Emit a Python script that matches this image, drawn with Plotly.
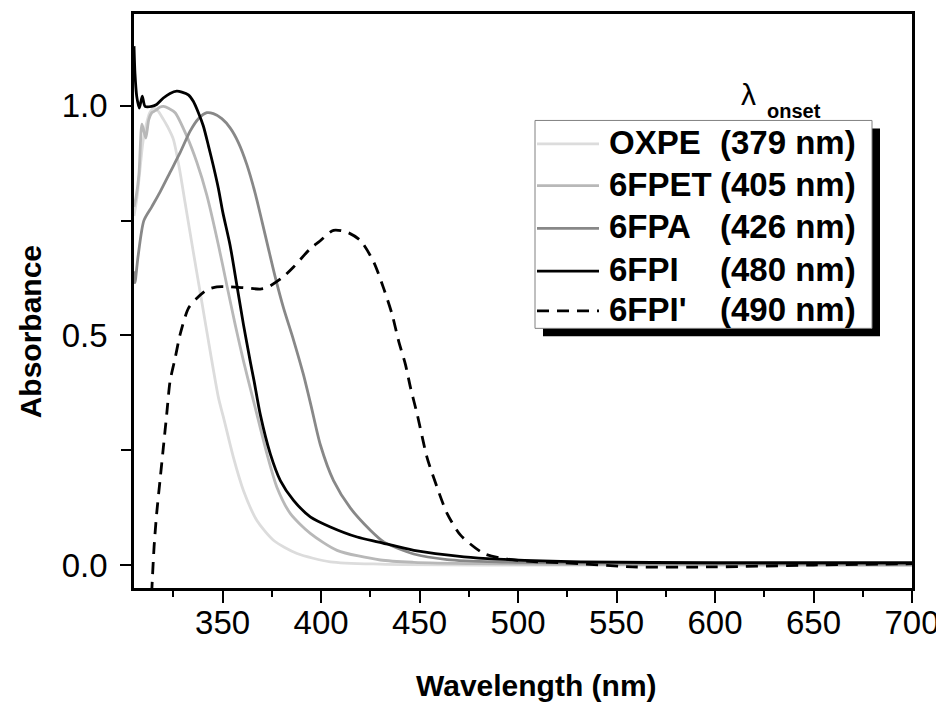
import plotly.graph_objects as go

# ---------------- data ----------------
oxpe_wl = [305, 306.5, 308, 309.5, 311, 313, 315, 317, 320, 322, 325, 328.4, 330.9, 335.1, 339.4,
           343.7, 347.9, 350.4, 355.5, 360.6, 367.4, 375.8, 387.8, 404.7, 430, 480, 550, 620, 700]
oxpe_abs = [0.76, 0.80, 0.86, 0.92, 0.955, 0.985, 0.995, 0.99, 0.97, 0.955, 0.927, 0.855, 0.790, 0.682, 0.574,
            0.465, 0.364, 0.322, 0.234, 0.162, 0.097, 0.054, 0.025, 0.007, 0.002, 0.0, 0.0, 0.0, 0.0]

fpet_wl = [305, 306, 307.5, 309, 310, 311, 312.5, 314, 316, 318, 320, 322.5, 325.9, 331.8, 336.9, 342.0,
           347.9, 352.1, 356.4, 360.6, 365.7, 367.4, 372.5, 377.6, 384.4, 394.5, 408.1, 430.1, 447, 480, 550, 700]
fpet_abs = [0.78, 0.80, 0.85, 0.96, 0.945, 0.93, 0.97, 0.985, 0.99, 0.997, 0.999, 0.995, 0.985, 0.934, 0.877, 0.805,
            0.696, 0.610, 0.523, 0.444, 0.357, 0.328, 0.242, 0.169, 0.112, 0.069, 0.032, 0.011, 0.006, 0.003, 0.001, 0.0]

fpa_wl = [305, 305.5, 307, 310, 314, 318.2, 323.3, 328.4, 333.5, 337.7, 342, 345.3, 349.6, 353.8, 358,
          362.3, 366.5, 370, 373.3, 377, 380.9, 386, 391, 395, 399.6, 406.3, 414.9, 425, 432, 447, 464, 489, 550, 700]
fpa_abs = [0.64, 0.615, 0.67, 0.75, 0.78, 0.812, 0.855, 0.898, 0.945, 0.972, 0.985, 0.983, 0.972, 0.952, 0.92,
           0.872, 0.81, 0.748, 0.688, 0.622, 0.56, 0.49, 0.415, 0.345, 0.262, 0.184, 0.124, 0.076, 0.05, 0.024, 0.012,
           0.007, 0.004, 0.002]

fpi_wl = [305, 305.5, 306.4, 307.7, 309.2, 310.6, 314.0, 316.5, 319.9, 323.3, 326.7, 329.3, 332.6, 335.1, 337.7,
          340.2, 342.8, 345.3, 347.9, 350.1, 353.8, 357.2, 360.6, 364.0, 366.0, 369.1, 374.2, 379.3, 386.0, 394.5,
          404.7, 418.3, 429.3, 447.1, 472.5, 489.5, 531.9, 600, 700]
fpi_abs = [1.13, 1.07, 1.02, 0.995, 1.021, 0.999, 0.999, 1.003, 1.017, 1.027, 1.032, 1.030, 1.024, 1.010, 0.985,
           0.956, 0.913, 0.869, 0.819, 0.768, 0.696, 0.610, 0.523, 0.444, 0.40, 0.328, 0.242, 0.184, 0.141, 0.105,
           0.083, 0.061, 0.050, 0.032, 0.018, 0.013, 0.007, 0.005, 0.005]

fpip_wl = [313, 314.3, 315.2, 316.5, 318.2, 319.9, 321.6, 323.3, 325.9, 328.4, 332.6, 336.9, 342.0, 347.1, 353.8,
           360.5, 369.1, 372.5, 380.9, 386.0, 394.5, 398.7, 406.3, 413.1, 419.9, 426.7, 431.8, 436.1, 439.4, 442.8,
           445.4, 448.8, 453.8, 458.9, 464.0, 470.8, 482.7, 494.5, 509.8, 523.3, 558, 600, 650, 700]
fpip_abs = [-0.15, -0.032, 0.040, 0.112, 0.184, 0.256, 0.328, 0.400, 0.451, 0.502, 0.559, 0.581, 0.599, 0.606, 0.606,
            0.604, 0.601, 0.604, 0.628, 0.649, 0.689, 0.703, 0.729, 0.725, 0.707, 0.660, 0.602, 0.545, 0.487, 0.437,
            0.386, 0.328, 0.234, 0.169, 0.112, 0.065, 0.025, 0.013, 0.007, 0.005, -0.004, -0.004, 0.0, 0.003]

series_names = ["OXPE", "6FPET", "6FPA", "6FPI", "6FPI'"]
onset_labels = ["(379 nm)", "(405 nm)", "(426 nm)", "(480 nm)", "(490 nm)"]
series_colors = ["#dcdcdc", "#b8b8b8", "#888888", "#000000", "#000000"]
series_dash = ["solid", "solid", "solid", "solid", "12px,8px"]

x_tick_vals = [350, 400, 450, 500, 550, 600, 650, 700]
y_tick_vals = [0.0, 0.5, 1.0]
y_tick_text = ["0.0", "0.5", "1.0"]

series = [(oxpe_wl, oxpe_abs), (fpet_wl, fpet_abs), (fpa_wl, fpa_abs), (fpi_wl, fpi_abs), (fpip_wl, fpip_abs)]

# ---------------- figure ----------------
OFF = 8                      # page body margin in the browser
W, H = 944 - OFF, 704 - OFF  # figure size so it fits the window
L, R, T, B = 134, 912, 11, 588   # plot area in page pixels
FONT = "Liberation Sans, Arial, sans-serif"

def px(x):
    return (x - L) / (R - L)

def py(y):
    return (B - y) / (B - T)

fig = go.Figure()
for (wl, ab), name, col, dash in zip(series, series_names, series_colors, series_dash):
    fig.add_trace(go.Scatter(x=wl, y=ab, mode="lines", name=name, showlegend=False,
                             line=dict(color=col, width=2.8, dash=dash, shape="spline", smoothing=0.7)))

axis_common = dict(showline=True, linecolor="black", linewidth=2.5, mirror=True,
                   ticks="outside", tickcolor="black", tickwidth=2, showgrid=False, zeroline=False,
                   tickfont=dict(family=FONT, size=33, color="black"))

fig.update_xaxes(range=[305, 700], tickvals=x_tick_vals, ticklen=12, ticklabelstandoff=-8,
                 minor=dict(ticks="outside", ticklen=6, tickwidth=2, tickcolor="black", dtick=25, tick0=325),
                 **axis_common)
fig.update_yaxes(range=[-0.05, 1.2], tickvals=y_tick_vals, ticktext=y_tick_text, ticklen=11, ticklabelstandoff=6,
                 minor=dict(ticks="outside", ticklen=10, tickwidth=2, tickcolor="black", dtick=0.25, tick0=0),
                 **axis_common)

shapes = []
# legend shadow and box
shapes.append(dict(type="rect", xref="paper", yref="paper", x0=px(543), x1=px(880), y0=py(335), y1=py(126),
                   fillcolor="black", line=dict(width=0), layer="above"))
shapes.append(dict(type="rect", xref="paper", yref="paper", x0=px(535), x1=px(872), y0=py(327), y1=py(118),
                   fillcolor="white", line=dict(color="#808080", width=1), layer="above"))

row_y = [140, 182, 225, 268, 308]
annotations = []
for i, (name, lab, col, dash) in enumerate(zip(series_names, onset_labels, series_colors, series_dash)):
    yy = row_y[i]
    shapes.append(dict(type="line", xref="paper", yref="paper", x0=px(537), x1=px(599),
                       y0=py(yy + 1.5), y1=py(yy + 1.5), line=dict(color=col, width=2.8, dash=dash), layer="above"))
    annotations.append(dict(xref="paper", yref="paper", x=px(607), y=py(yy), text="<b>%s</b>" % name,
                            showarrow=False, xanchor="left", yanchor="middle",
                            font=dict(family=FONT, size=33, color="black")))
    annotations.append(dict(xref="paper", yref="paper", x=px(858), y=py(yy), text="<b>%s</b>" % lab,
                            showarrow=False, xanchor="right", yanchor="middle",
                            font=dict(family=FONT, size=33, color="black")))

annotations.append(dict(xref="paper", yref="paper", x=px(748), y=py(92), text="λ", showarrow=False,
                        xanchor="center", yanchor="middle", font=dict(family=FONT, size=30, color="black")))
annotations.append(dict(xref="paper", yref="paper", x=px(794), y=py(109), text="<b>onset</b>", showarrow=False,
                        xanchor="center", yanchor="middle", font=dict(family=FONT, size=20, color="black")))
annotations.append(dict(xref="paper", yref="paper", x=px(536), y=py(686), text="<b>Wavelength (nm)</b>",
                        showarrow=False, xanchor="center", yanchor="middle",
                        font=dict(family=FONT, size=30, color="black")))
annotations.append(dict(xref="paper", yref="paper", x=px(30), y=py(331), text="<b>Absorbance</b>",
                        showarrow=False, xanchor="center", yanchor="middle", textangle=-90,
                        font=dict(family=FONT, size=30, color="black")))

fig.update_layout(width=W, height=H, autosize=False,
                  margin=dict(l=L - OFF, r=W - (R - OFF), t=T - OFF, b=H - (B - OFF), pad=0),
                  plot_bgcolor="white", paper_bgcolor="white",
                  shapes=shapes, annotations=annotations,
                  font=dict(family=FONT, color="black"))

fig.write_html("out.html")
